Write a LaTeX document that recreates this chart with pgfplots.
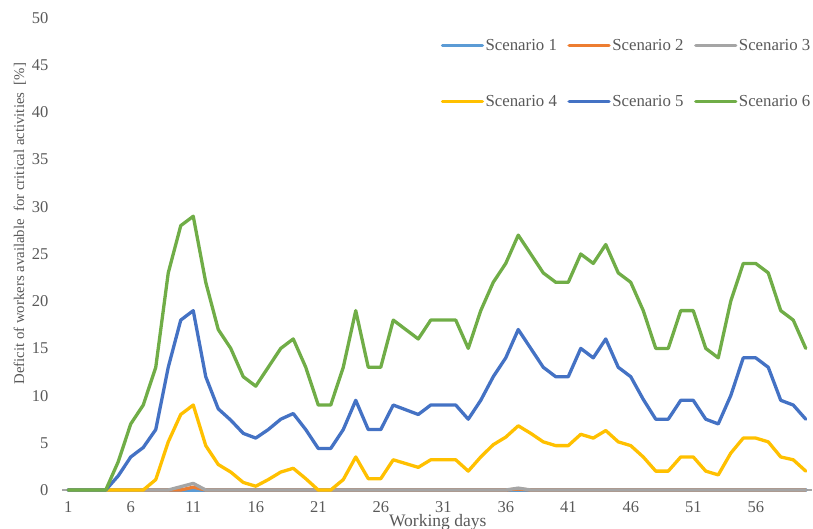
\documentclass[border=0pt]{standalone}
\usepackage{fontspec}
\setmainfont{Liberation Serif}
\usepackage{pgfplots}
\usepackage{pgfplotstable}
\pgfplotsset{compat=1.18}
\definecolor{sA}{HTML}{5B9BD5}
\definecolor{sB}{HTML}{ED7D31}
\definecolor{sC}{HTML}{A5A5A5}
\definecolor{sD}{HTML}{FFC000}
\definecolor{sE}{HTML}{4472C4}
\definecolor{sF}{HTML}{70AD47}
\definecolor{txt}{HTML}{595959}
\definecolor{axl}{HTML}{A6A6A6}
\pgfplotstableread{
d s1 s2 s3 s4 s5 s6
1 0 0 0 0 0 0
2 0 0 0 0 0 0
3 0 0 0 0 0 0
4 0 0 0 0 0 0
5 0 0 0 0 1.5 3
6 0 0 0 0 3.5 7
7 0 0 0 0 4.5 9
8 0 0 0 1.1 6.4 13
9 0 0 0 5.1 13 23
10 0 0 0.35 8 18 28
11 0 0.3 0.7 9 19 29
12 0 0 0 4.7 12 22
13 0 0 0 2.7 8.6 17
14 0 0 0 1.9 7.4 15
15 0 0 0 0.8 6.0 12
16 0 0 0 0.4 5.5 11
17 0 0 0 1.1 6.4 13
18 0 0 0 1.9 7.5 15
19 0 0 0 2.3 8.1 16
20 0 0 0 1.2 6.4 13
21 0 0 0 0 4.4 9
22 0 0 0 0 4.4 9
23 0 0 0 1.1 6.4 13
24 0 0 0 3.5 9.5 19
25 0 0 0 1.2 6.4 13
26 0 0 0 1.2 6.4 13
27 0 0 0 3.2 9 18
28 0 0 0 2.8 8.5 17
29 0 0 0 2.4 8.0 16
30 0 0 0 3.2 9 18
31 0 0 0 3.2 9 18
32 0 0 0 3.2 9 18
33 0 0 0 2.0 7.5 15
34 0 0 0 3.5 9.5 19
35 0 0 0 4.8 12 22
36 0 0 0 5.6 14 24
37 0 0.1 0.2 6.8 17 27
38 0 0 0 6.0 15 25
39 0 0 0 5.1 13 23
40 0 0 0 4.7 12 22
41 0 0 0 4.7 12 22
42 0 0 0 5.9 15 25
43 0 0 0 5.5 14 24
44 0 0 0 6.3 16 26
45 0 0 0 5.1 13 23
46 0 0 0 4.7 12 22
47 0 0 0 3.5 9.6 19
48 0 0 0 2.0 7.5 15
49 0 0 0 2.0 7.5 15
50 0 0 0 3.5 9.5 19
51 0 0 0 3.5 9.5 19
52 0 0 0 2.0 7.5 15
53 0 0 0 1.6 7.0 14
54 0 0 0 3.9 10 20
55 0 0 0 5.5 14 24
56 0 0 0 5.5 14 24
57 0 0 0 5.1 13 23
58 0 0 0 3.5 9.5 19
59 0 0 0 3.2 9 18
60 0 0 0 2.0 7.5 15
}\data
\begin{document}
\begin{tikzpicture}[font=\fontsize{16.5bp}{19bp}\selectfont]
\path[use as bounding box] (0,0) rectangle (813bp,529bp);
\begin{axis}[
  at={(62bp,39bp)}, anchor=south west,
  width=750bp, height=472bp, scale only axis,
  xmin=0.5, xmax=60.5, ymin=0, ymax=50,
  axis x line*=bottom, axis y line*=left,
  x axis line style={draw=axl, line width=1.2bp, -},
  y axis line style={draw=none},
  xtick={1,6,...,56}, ytick={0,5,...,50},
  major tick length=0pt,
  xticklabel style={text=txt, yshift=-8bp},
  yticklabel style={text=txt, xshift=-10bp},
  /pgf/number format/assume math mode=true,
  xlabel={Working days},
  ylabel={Deficit of workers available\ \ for critical activities\ \ [\%]},
  xlabel style={at={(axis description cs:0.501,0)}, anchor=center, yshift=-32bp, text=txt, font=\fontsize{17.5bp}{20bp}\selectfont},
  ylabel style={at={(axis description cs:-0.056,0.564)}, anchor=center, text=txt, font=\fontsize{14.8bp}{17bp}\selectfont},
  clip=false,
  legend columns=3,
  legend style={draw=none, fill=none, at={(axis description cs:1.0,0.958)}, anchor=north east,
    inner sep=0pt, text=txt, nodes={inner sep=1.5bp, text=txt}, font=\fontsize{16.8bp}{19bp}\selectfont,
    /tikz/every even column/.append style={column sep=9bp},
    row sep=40bp},
  legend image code/.code={\draw[#1] (0bp,0bp) -- (40bp,0bp);},
  every axis plot/.append style={line width=3.3bp, line join=round, line cap=round},
]
\addplot[sA] table[x=d, y=s1] {\data};
\addplot[sB] table[x=d, y=s2] {\data};
\addplot[sC] table[x=d, y=s3] {\data};
\addplot[sD] table[x=d, y=s4] {\data};
\addplot[sE] table[x=d, y=s5] {\data};
\addplot[sF] table[x=d, y=s6] {\data};
\legend{Scenario 1, Scenario 2, Scenario 3, Scenario 4, Scenario 5, Scenario 6}
\end{axis}
\end{tikzpicture}
\end{document}
